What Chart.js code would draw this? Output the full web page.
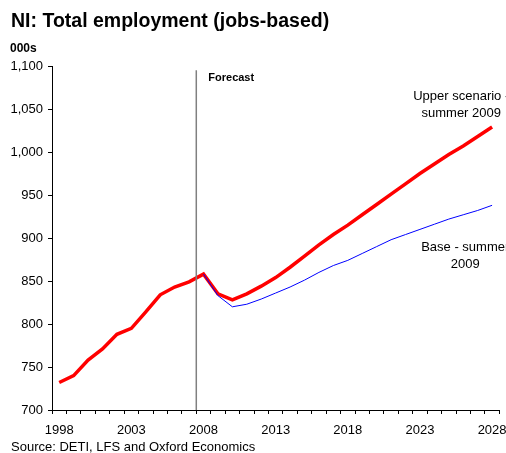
<!DOCTYPE html>
<html>
<head>
<meta charset="utf-8">
<script src="https://cdn.jsdelivr.net/npm/chart.js@4"></script>
<style>
  html, body { margin: 0; padding: 0; background: #fff; }
  #wrap { position: relative; width: 506px; height: 453px; }
</style>
</head>
<body>
<div id="wrap"><canvas id="chart" width="506" height="453"></canvas></div>
<script>
const years = [];
for (let y = 1998; y <= 2028; y++) years.push(String(y));

// Upper scenario (history to 2008, then forecast)
const upper = [732, 740, 758, 771, 788, 795, 814, 834, 843, 849, 858,
    835, 828, 835, 844, 854, 866, 879, 892, 904, 915, 927, 939, 951,
    963, 975, 986, 997, 1007, 1018, 1029];

// Base scenario, forecast only
const base = [null, null, null, null, null, null, null, null, null, null, 858,
    833, 820, 823, 829, 836, 843, 851, 860, 868, 874, 882, 890, 898,
    904, 910, 916, 922, 927, 932, 938];

const yTicks = [700, 750, 800, 850, 900, 950, 1000, 1050, 1100];
const xLabelYears = ["1998", "2003", "2008", "2013", "2018", "2023", "2028"];
const forecastStart = "2008";

const FONT = "'Liberation Sans', Arial, sans-serif";

const decor = {
    id: "decor",
    afterDraw(chart) {
        const ctx = chart.ctx;
        const x = chart.scales.x;
        const y = chart.scales.y;
        const area = chart.chartArea;
        ctx.save();

        // forecast divider
        const i = years.indexOf(forecastStart);
        const xf = (x.getPixelForValue(i - 1) + x.getPixelForValue(i)) / 2;
        ctx.strokeStyle = "#808080";
        ctx.lineWidth = 1.5;
        ctx.beginPath();
        ctx.moveTo(xf, y.getPixelForValue(1095));
        ctx.lineTo(xf, area.bottom);
        ctx.stroke();

        ctx.fillStyle = "#000";
        ctx.textBaseline = "middle";
        ctx.textAlign = "left";
        ctx.font = "bold 11px " + FONT;
        ctx.fillText("Forecast", xf + 12, y.getPixelForValue(1086));

        // series labels
        const ref = x.getPixelForValue(years.indexOf("2026"));
        ctx.font = "13px " + FONT;
        ctx.textAlign = "center";
        ctx.fillText("Upper scenario -", ref - 2, y.getPixelForValue(1065));
        ctx.fillText("summer 2009", ref - 2, y.getPixelForValue(1045));
        ctx.fillText("Base - summer", ref + 2, y.getPixelForValue(889));
        ctx.fillText("2009", ref + 2, y.getPixelForValue(869));

        // title, unit and source
        ctx.textAlign = "left";
        ctx.font = "bold 19.5px " + FONT;
        ctx.fillText("NI: Total employment (jobs-based)", 11, 22);
        ctx.font = "bold 12px " + FONT;
        ctx.fillText("000s", 10, 49);
        ctx.font = "13px " + FONT;
        ctx.fillText("Source: DETI, LFS and Oxford Economics", 11, 447);
        ctx.restore();
    }
};

new Chart(document.getElementById("chart"), {
    type: "line",
    data: {
        labels: years,
        datasets: [
            {
                label: "Base - summer 2009",
                data: base,
                borderColor: "#0000ff",
                borderWidth: 1,
                pointRadius: 0,
                tension: 0,
                fill: false,
            },
            {
                label: "Upper scenario - summer 2009",
                data: upper,
                borderColor: "#ff0000",
                borderWidth: 3.5,
                pointRadius: 0,
                tension: 0,
                fill: false,
            },
        ],
    },
    options: {
        responsive: false,
        animation: false,
        events: [],
        layout: { padding: { top: 66, right: 6.7, bottom: 0, left: 0 } },
        plugins: {
            legend: { display: false },
            tooltip: { enabled: false },
        },
        scales: {
            x: {
                offset: true,
                afterFit(scale) {
                    scale.height = 43;
                    // keep the end labels from narrowing the plot
                    scale.paddingLeft = 0;
                    scale.paddingRight = 0;
                },
                grid: {
                    offset: true,
                    drawOnChartArea: false,
                    drawTicks: true,
                    tickLength: 4,
                    color: "#000",
                },
                border: { color: "#000", width: 1 },
                ticks: {
                    autoSkip: false,
                    maxRotation: 0,
                    padding: 8.5,
                    color: "#000",
                    font: { family: FONT, size: 13 },
                    callback(value) {
                        const lab = years[value];
                        return xLabelYears.includes(lab) ? lab : "";
                    },
                },
            },
            y: {
                min: yTicks[0],
                max: yTicks[yTicks.length - 1],
                afterFit(scale) {
                    scale.width = 52;
                    scale.paddingTop = 0;
                    scale.paddingBottom = 0;
                },
                afterBuildTicks(scale) {
                    scale.ticks = yTicks.map((v) => ({ value: v }));
                },
                grid: {
                    drawOnChartArea: false,
                    drawTicks: true,
                    tickLength: 4,
                    color: "#000",
                },
                border: { color: "#000", width: 1 },
                ticks: {
                    padding: 5,
                    color: "#000",
                    font: { family: FONT, size: 13 },
                    callback(value) {
                        return value.toLocaleString("en-GB");
                    },
                },
            },
        },
    },
    plugins: [decor],
});
</script>
</body>
</html>
